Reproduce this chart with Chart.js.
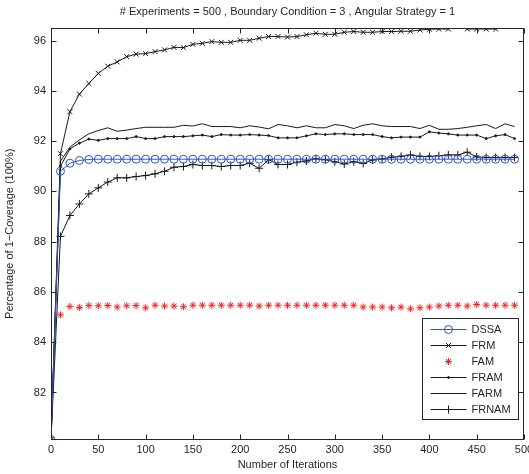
<!DOCTYPE html>
<html>
<head>
<meta charset="utf-8">
<script src="https://cdn.jsdelivr.net/npm/chart.js@4"></script>
<style>
  html, body { margin: 0; padding: 0; background: #fff; }
  canvas { display: block; }
</style>
</head>
<body>
<canvas id="coverageChart" width="529" height="474"></canvas>
<script>
// ==================== DATA ====================
const chartTitle = '# Experiments = 500 , Boundary Condition = 3 , Angular Strategy = 1';
const xTitle = 'Number of Iterations';
const yTitle = 'Percentage of 1\u2212Coverage (100%)';

const xTicks = [0, 50, 100, 150, 200, 250, 300, 350, 400, 450, 500];
const yTicks = [82, 84, 86, 88, 90, 92, 94, 96];
const yMin = 80.13;
const yMax = 96.5;

const iterations = [0, 10, 20, 30, 40, 50, 60, 70, 80, 90,
    100, 110, 120, 130, 140, 150, 160, 170, 180, 190,
    200, 210, 220, 230, 240, 250, 260, 270, 280, 290,
    300, 310, 320, 330, 340, 350, 360, 370, 380, 390,
    400, 410, 420, 430, 440, 450, 460, 470, 480, 490];

const dssa = [80.13, 90.80, 91.12, 91.23, 91.27, 91.28, 91.28, 91.28, 91.28, 91.28,
    91.28, 91.28, 91.28, 91.28, 91.28, 91.28, 91.28, 91.28, 91.28, 91.28,
    91.28, 91.28, 91.28, 91.28, 91.28, 91.28, 91.28, 91.28, 91.28, 91.28,
    91.28, 91.28, 91.28, 91.28, 91.28, 91.28, 91.28, 91.28, 91.28, 91.28,
    91.28, 91.28, 91.28, 91.28, 91.28, 91.28, 91.28, 91.28, 91.28, 91.28];

const frm = [80.13, 91.50, 93.17, 93.87, 94.29, 94.69, 94.98, 95.15, 95.36, 95.46,
    95.48, 95.56, 95.63, 95.73, 95.72, 95.85, 95.89, 95.96, 95.93, 95.93,
    96.01, 96.01, 96.09, 96.16, 96.16, 96.14, 96.16, 96.23, 96.29, 96.25,
    96.25, 96.33, 96.36, 96.33, 96.33, 96.36, 96.36, 96.37, 96.37, 96.42,
    96.45, 96.46, 96.46, 96.55, 96.46, 96.46, 96.46, 96.46, 96.55, 96.55];

const fam = [80.13, 85.09, 85.42, 85.38, 85.46, 85.45, 85.46, 85.40, 85.45, 85.46,
    85.37, 85.47, 85.44, 85.44, 85.41, 85.47, 85.47, 85.47, 85.47, 85.47,
    85.47, 85.47, 85.44, 85.47, 85.47, 85.47, 85.47, 85.47, 85.47, 85.47,
    85.47, 85.47, 85.47, 85.40, 85.40, 85.40, 85.37, 85.40, 85.33, 85.37,
    85.40, 85.44, 85.47, 85.47, 85.44, 85.50, 85.47, 85.47, 85.47, 85.47];

const fram = [80.13, 91.00, 91.69, 91.92, 92.08, 92.03, 92.10, 92.10, 92.10, 92.18,
    92.10, 92.10, 92.18, 92.18, 92.18, 92.21, 92.24, 92.18, 92.26, 92.24,
    92.24, 92.26, 92.24, 92.22, 92.13, 92.13, 92.13, 92.21, 92.29, 92.26,
    92.29, 92.29, 92.26, 92.26, 92.26, 92.18, 92.13, 92.16, 92.16, 92.16,
    92.37, 92.32, 92.29, 92.24, 92.24, 92.24, 92.10, 92.21, 92.26, 92.10];

const farm = [80.13, 91.20, 91.76, 92.05, 92.29, 92.42, 92.53, 92.39, 92.44, 92.50,
    92.55, 92.55, 92.55, 92.55, 92.63, 92.60, 92.69, 92.58, 92.58, 92.58,
    92.53, 92.61, 92.56, 92.49, 92.66, 92.61, 92.53, 92.61, 92.53, 92.53,
    92.66, 92.61, 92.50, 92.63, 92.69, 92.61, 92.58, 92.58, 92.58, 92.50,
    92.63, 92.47, 92.47, 92.50, 92.55, 92.61, 92.66, 92.50, 92.69, 92.58];

const frnam = [80.13, 88.21, 89.04, 89.50, 89.90, 90.14, 90.37, 90.54, 90.54, 90.59,
    90.63, 90.70, 90.80, 90.96, 90.99, 91.07, 91.03, 91.03, 90.99, 91.03,
    91.03, 91.12, 90.92, 91.26, 91.07, 91.07, 91.16, 91.21, 91.30, 91.26,
    91.18, 91.09, 91.18, 91.11, 91.25, 91.29, 91.36, 91.39, 91.45, 91.39,
    91.39, 91.42, 91.45, 91.45, 91.56, 91.37, 91.35, 91.35, 91.35, 91.35];

// ==================== CHART ====================
const FONT = '"Liberation Sans", Arial, sans-serif';
const INK = '#262626';
const LINE = '#1a1a1a';

function toPoints(values) {
    return iterations.map((it, i) => ({ x: it, y: values[i] }));
}

// hide markers that fall above the axes (Matlab drops them)
function markerRadius(r) {
    return ctx => (ctx.raw && ctx.raw.y > yMax) ? 0 : r;
}

const datasets = [{
    label: 'DSSA',
    data: toPoints(dssa),
    borderColor: '#2f55c8',
    pointBorderColor: '#2f55c8',
    pointBackgroundColor: 'rgba(0,0,0,0)',
    pointStyle: 'circle',
    pointRadius: 4,
    borderWidth: 1
}, {
    label: 'FRM',
    data: toPoints(frm),
    borderColor: LINE,
    pointBorderColor: LINE,
    pointStyle: 'crossRot',
    pointRadius: markerRadius(3.5),
    borderWidth: 1
}, {
    label: 'FAM',
    data: toPoints(fam),
    showLine: false,
    borderColor: '#ff2020',
    pointBorderColor: '#ff2020',
    pointBackgroundColor: '#ff2020',
    pointStyle: 'star',
    pointRadius: 3.5,
    borderWidth: 1
}, {
    label: 'FRAM',
    data: toPoints(fram),
    borderColor: LINE,
    pointBorderColor: LINE,
    pointBackgroundColor: LINE,
    pointStyle: 'circle',
    pointRadius: 1,
    borderWidth: 1
}, {
    label: 'FARM',
    data: toPoints(farm),
    borderColor: LINE,
    pointRadius: 0,
    borderWidth: 1
}, {
    label: 'FRNAM',
    data: toPoints(frnam),
    borderColor: LINE,
    pointBorderColor: LINE,
    pointStyle: 'cross',
    pointRadius: 4,
    borderWidth: 1
}];

// box, inward ticks, title and the in-axes legend
const matlabFrame = {
    id: 'matlabFrame',
    afterDraw(chart) {
        const { ctx, chartArea: a, scales } = chart;
        const L = Math.round(a.left) + 0.5, R = Math.round(a.right) - 0.5;
        const T = Math.round(a.top) + 0.5, B = Math.round(a.bottom) - 0.5;
        ctx.save();
        ctx.strokeStyle = INK;
        ctx.lineWidth = 1;
        ctx.strokeRect(L, T, R - L, B - T);

        ctx.beginPath();
        xTicks.forEach(v => {
            const px = Math.round(scales.x.getPixelForValue(v)) + 0.5;
            ctx.moveTo(px, B); ctx.lineTo(px, B - 5);
            ctx.moveTo(px, T); ctx.lineTo(px, T + 5);
        });
        yTicks.forEach(v => {
            const py = Math.round(scales.y.getPixelForValue(v)) + 0.5;
            ctx.moveTo(L, py); ctx.lineTo(L + 5, py);
            ctx.moveTo(R, py); ctx.lineTo(R - 5, py);
        });
        ctx.stroke();

        // title
        ctx.fillStyle = INK;
        ctx.font = '11px ' + FONT;
        ctx.textAlign = 'center';
        ctx.textBaseline = 'middle';
        ctx.fillText(chartTitle, (a.left + a.right) / 2, 12);

        // legend
        const lw = 96, lh = 101;
        const lx = Math.round(a.right) - 6 - lw + 0.5;
        const ly = Math.round(a.bottom) - 21 - lh + 0.5;
        ctx.fillStyle = '#fff';
        ctx.fillRect(lx, ly, lw, lh);
        ctx.strokeStyle = INK;
        ctx.strokeRect(lx, ly, lw, lh);

        chart.data.datasets.forEach((ds, i) => {
            const yy = ly + 11 + i * 16;
            const x0 = lx + 8, x1 = lx + 44, xm = (x0 + x1) / 2;
            if (ds.showLine !== false) {
                ctx.strokeStyle = ds.borderColor;
                ctx.lineWidth = 1;
                ctx.beginPath();
                ctx.moveTo(x0, yy); ctx.lineTo(x1, yy);
                ctx.stroke();
            }
            const r = typeof ds.pointRadius === 'function' ? 3.5 : ds.pointRadius;
            if (r > 0) {
                ctx.strokeStyle = ds.pointBorderColor || ds.borderColor;
                ctx.fillStyle = ds.pointBackgroundColor || ds.borderColor;
                Chart.helpers.drawPoint(ctx, {
                    pointStyle: ds.pointStyle, radius: r, rotation: 0, borderWidth: 1
                }, xm, yy);
            }
            ctx.fillStyle = INK;
            ctx.font = '11px ' + FONT;
            ctx.textAlign = 'left';
            ctx.textBaseline = 'middle';
            ctx.fillText(ds.label, lx + 49, yy);
        });
        ctx.restore();
    }
};

new Chart(document.getElementById('coverageChart'), {
    type: 'line',
    data: { datasets: datasets },
    options: {
        responsive: false,
        animation: false,
        devicePixelRatio: 1,
        layout: { padding: { top: 28, right: 4, left: 0, bottom: 0 } },
        elements: { line: { tension: 0 } },
        plugins: {
            legend: { display: false },
            tooltip: { enabled: false }
        },
        scales: {
            x: {
                type: 'linear',
                min: 0,
                max: 500,
                grid: { display: false, drawTicks: false },
                border: { display: false },
                afterBuildTicks: s => { s.ticks = xTicks.map(v => ({ value: v })); },
                afterFit: s => { s.height = 34.5; s.paddingLeft = 0; s.paddingRight = 0; },
                ticks: {
                    autoSkip: false,
                    maxRotation: 0,
                    padding: 4,
                    color: INK,
                    font: { family: FONT, size: 11 }
                },
                title: {
                    display: true,
                    text: xTitle,
                    color: INK,
                    font: { family: FONT, size: 11 },
                    padding: { top: 0, bottom: 2 }
                }
            },
            y: {
                type: 'linear',
                min: yMin,
                max: yMax,
                grid: { display: false, drawTicks: false },
                border: { display: false },
                afterBuildTicks: s => { s.ticks = yTicks.map(v => ({ value: v })); },
                afterFit: s => { s.width = 51; s.paddingTop = 0; s.paddingBottom = 0; },
                ticks: {
                    autoSkip: false,
                    padding: 5,
                    color: INK,
                    font: { family: FONT, size: 11 }
                },
                title: {
                    display: true,
                    text: yTitle,
                    color: INK,
                    font: { family: FONT, size: 11 },
                    padding: { top: 3, bottom: 0 }
                }
            }
        }
    },
    plugins: [matlabFrame]
});
</script>
</body>
</html>
